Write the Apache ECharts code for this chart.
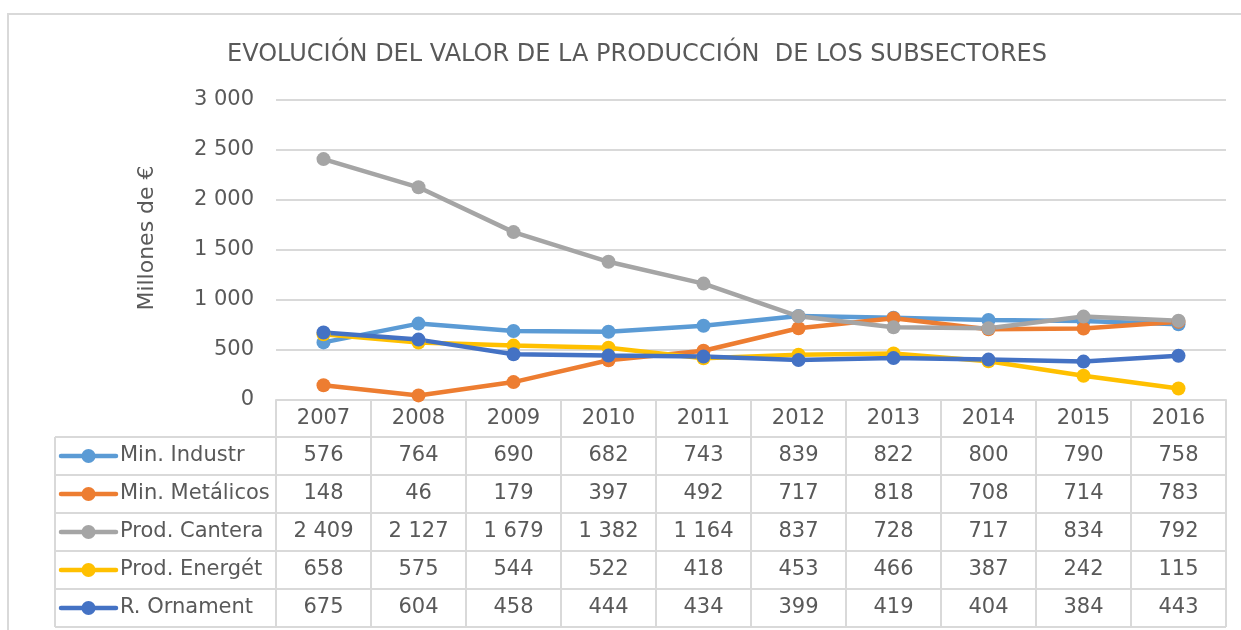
<!DOCTYPE html>
<html>
<head>
<meta charset="utf-8">
<script src="https://cdn.jsdelivr.net/npm/echarts@6/dist/echarts.min.js"></script>
<style>
  html, body { margin: 0; padding: 0; background: #fff; }
  #chart { width: 1241px; height: 630px; }
</style>
</head>
<body>
<div id="chart"></div>
<script>
// años (categorías)
const years = ['2007', '2008', '2009', '2010', '2011', '2012', '2013', '2014', '2015', '2016'];

// series, en millones de €
const minIndustr = [576, 764, 690, 682, 743, 839, 822, 800, 790, 758];
const minMetalicos = [148, 46, 179, 397, 492, 717, 818, 708, 714, 783];
const prodCantera = [2409, 2127, 1679, 1382, 1164, 837, 728, 717, 834, 792];
const prodEnerget = [658, 575, 544, 522, 418, 453, 466, 387, 242, 115];
const rOrnament = [675, 604, 458, 444, 434, 399, 419, 404, 384, 443];

const seriesNames = ['Min. Industr', 'Min. Metálicos', 'Prod. Cantera', 'Prod. Energét', 'R. Ornament'];
const seriesData = [minIndustr, minMetalicos, prodCantera, prodEnerget, rOrnament];
const colors = ['#5B9BD5', '#ED7D31', '#A5A5A5', '#FFC000', '#4472C4'];

const FONT = 'DejaVu Sans';
const TXT = '#595959';
const LINE = '#D9D9D9';

// separador de miles con espacio
function fmt(v) {
  return String(v).replace(/\B(?=(\d{3})+(?!\d))/g, ' ');
}

const myChart = echarts.init(document.getElementById('chart'), null, { renderer: 'canvas' });

const option = {
  animation: false,
  backgroundColor: '#fff',
  textStyle: { fontFamily: FONT },
  title: {
    text: 'EVOLUCIÓN DEL VALOR DE LA PRODUCCIÓN  DE LOS SUBSECTORES',
    left: 632,
    textAlign: 'center',
    top: 38,
    textStyle: { fontFamily: FONT, fontSize: 24, fontWeight: 'normal', color: TXT }
  },
  grid: { left: 276, right: 15, top: 100, bottom: 230 },
  xAxis: {
    type: 'category',
    data: years,
    boundaryGap: true,
    axisLine: { lineStyle: { color: LINE, width: 2 } },
    axisTick: { show: false },
    axisLabel: { color: TXT, fontSize: 21, fontFamily: FONT, margin: 8 }
  },
  yAxis: {
    type: 'value',
    min: 0,
    max: 3000,
    interval: 500,
    axisLine: { show: false },
    axisTick: { show: false },
    axisLabel: { color: TXT, fontSize: 21, fontFamily: FONT, margin: 22, formatter: fmt },
    splitLine: { lineStyle: { color: LINE, width: 2 } }
  },
  series: seriesNames.map((name, i) => ({
    name: name,
    type: 'line',
    data: seriesData[i],
    symbol: 'circle',
    symbolSize: 14,
    lineStyle: { color: colors[i], width: 4.5 },
    itemStyle: { color: colors[i] }
  }))
};

myChart.setOption(option);

// tabla de datos debajo del eje, alineada con las categorías
function buildTable() {
  const x0 = myChart.convertToPixel({ xAxisIndex: 0 }, 0);
  const x1 = myChart.convertToPixel({ xAxisIndex: 0 }, 1);
  const band = x1 - x0;
  const left = x0 - band / 2;
  const right = left + band * years.length;
  const axisY = myChart.convertToPixel({ yAxisIndex: 0 }, 0);
  const rowH = 38;
  const headerBottom = axisY + 37;
  const tableBottom = headerBottom + rowH * seriesNames.length;
  const legLeft = 55;
  const els = [];
  const ls = { stroke: LINE, lineWidth: 2 };
  const font = '21px "' + FONT + '"';

  // marco exterior del gráfico
  els.push({ type: 'rect', shape: { x: 8, y: 14, width: 1260, height: 650 }, style: { fill: 'none', stroke: LINE, lineWidth: 2 }, silent: true });

  // título del eje Y
  els.push({ type: 'text', x: 147, y: 238, rotation: Math.PI / 2, style: { text: 'Millones de €', fill: TXT, font: '22px "' + FONT + '"', textAlign: 'center', textVerticalAlign: 'middle' }, silent: true });

  // líneas verticales
  for (let i = 0; i <= years.length; i++) {
    const x = left + band * i;
    els.push({ type: 'line', shape: { x1: x, y1: axisY, x2: x, y2: tableBottom }, style: ls, silent: true });
  }
  els.push({ type: 'line', shape: { x1: legLeft, y1: headerBottom, x2: legLeft, y2: tableBottom }, style: ls, silent: true });

  // líneas horizontales
  for (let r = 0; r <= seriesNames.length; r++) {
    const y = headerBottom + rowH * r;
    els.push({ type: 'line', shape: { x1: legLeft, y1: y, x2: right, y2: y }, style: ls, silent: true });
  }

  // filas
  seriesNames.forEach((name, r) => {
    const cy = headerBottom + rowH * r + rowH / 2;
    els.push({ type: 'line', shape: { x1: 61, y1: cy, x2: 116, y2: cy }, style: { stroke: colors[r], lineWidth: 4.5, lineCap: 'round' }, silent: true });
    els.push({ type: 'circle', shape: { cx: 88.5, cy: cy, r: 7 }, style: { fill: colors[r] }, silent: true });
    els.push({ type: 'text', x: 120, y: cy, style: { text: name, fill: TXT, font: font, textAlign: 'left', textVerticalAlign: 'middle' }, silent: true });
    seriesData[r].forEach((v, c) => {
      els.push({ type: 'text', x: left + band * (c + 0.5), y: cy, style: { text: fmt(v), fill: TXT, font: font, textAlign: 'center', textVerticalAlign: 'middle' }, silent: true });
    });
  });
  return els;
}

myChart.setOption({ graphic: { elements: buildTable() } });
</script>
</body>
</html>
